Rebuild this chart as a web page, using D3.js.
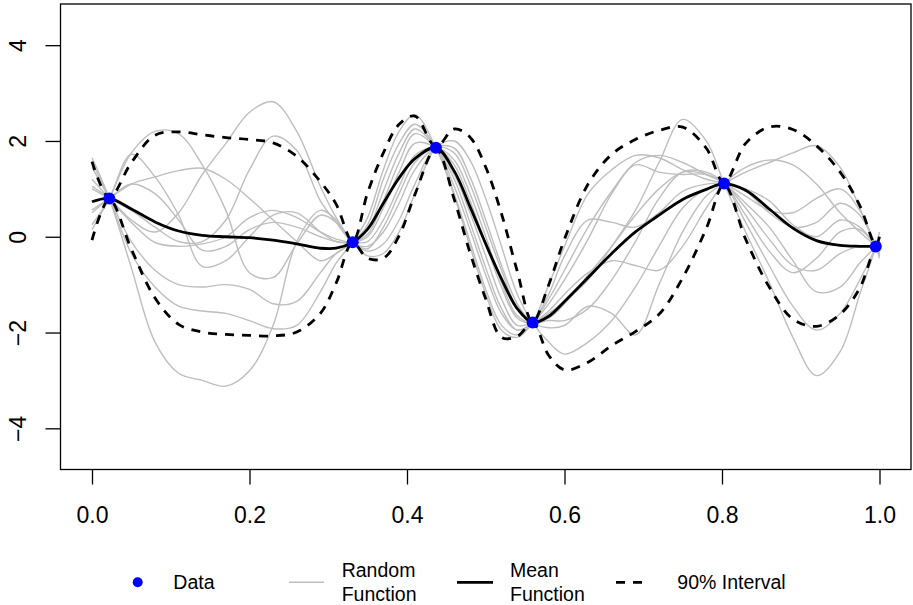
<!DOCTYPE html>
<html>
<head>
<meta charset="utf-8">
<script src="https://cdn.jsdelivr.net/npm/d3@7"></script>
<style>
body { margin: 0; background: #fff; }
svg text { font-family: Arial, "Liberation Sans", sans-serif; fill: #000; }
</style>
</head>
<body>
<svg id="chart" width="913" height="605"></svg>
<script>
// values at these x positions
const x_grid = [0, 0.022, 0.05, 0.08, 0.11, 0.14, 0.17, 0.20, 0.23, 0.26, 0.29, 0.31, 0.331,
	0.35, 0.37, 0.39, 0.41, 0.4367, 0.46, 0.48, 0.50, 0.52, 0.54, 0.5595,
	0.58, 0.60, 0.63, 0.66, 0.69, 0.72, 0.75, 0.78, 0.8027,
	0.83, 0.86, 0.89, 0.92, 0.95, 0.975, 0.9953, 1.0];

const mean_vals = [0.73, 0.80, 0.58, 0.31, 0.12, 0.03, 0.0, -0.02, -0.07, -0.15, -0.24, -0.24, -0.115,
	0.16, 0.70, 1.23, 1.63, 1.86, 1.37, 0.63, -0.15, -0.88, -1.50, -1.793,
	-1.66, -1.35, -0.85, -0.35, 0.10, 0.45, 0.78, 0.99, 1.11,
	0.97, 0.58, 0.18, -0.08, -0.18, -0.20, -0.205, -0.21];
const upper_vals = [1.57, 0.82, 1.55, 2.12, 2.19, 2.13, 2.07, 2.03, 1.96, 1.68, 1.15, 0.68, -0.10,
	0.92, 1.75, 2.35, 2.52, 1.88, 2.25, 2.08, 1.45, 0.48, -0.72, -1.78,
	-1.0, -0.05, 1.10, 1.72, 2.03, 2.22, 2.29, 1.85, 1.13,
	1.95, 2.29, 2.24, 1.90, 1.35, 0.65, -0.18, 0.0];
const lower_vals = [-0.07, 0.78, -0.26, -1.28, -1.83, -1.99, -2.04, -2.06, -2.07, -1.99, -1.60, -0.97, -0.13,
	-0.45, -0.45, 0.02, 0.88, 1.84, 0.78, -0.33, -1.30, -2.10, -2.08, -1.80,
	-2.48, -2.78, -2.62, -2.27, -1.98, -1.62, -0.86, 0.17, 1.09,
	-0.05, -1.05, -1.72, -1.87, -1.62, -1.07, -0.23, -0.40];

// the ten random functions
const draw_1 = [1.65, 0.80, -0.65, -2.2, -2.85, -3.0, -3.12, -2.8, -1.85, -0.1, 0.55, 0.35, -0.115,
	-0.3, -0.15, 0.35, 1.1, 1.86, 1.85, 1.25, 0.35, -0.6, -1.4, -1.793,
	-1.9, -1.85, -1.45, -1.6, -2.05, -1.0, 0.1, 0.85, 1.11,
	1.35, 1.55, 1.75, 1.9, 1.45, 0.6, -0.205, -0.40];
const draw_2 = [1.05, 0.80, 0.35, 0.1, 0.5, 1.3, 1.95, 2.6, 2.82, 2.2, 1.05, 0.4, -0.115,
	-0.4, -0.35, 0.1, 0.9, 1.86, 2.0, 1.6, 0.8, -0.2, -1.2, -1.793,
	-2.2, -2.45, -2.2, -1.75, -1.05, -0.2, 0.6, 1.0, 1.11,
	1.0, 0.75, 0.25, 0.0, 0.35, 0.2, -0.205, -0.35];
const draw_3 = [0.15, 0.80, 1.75, 2.2, 2.15, 1.5, 0.55, -0.75, -0.85, -0.15, 0.45, 0.3, -0.115,
	-0.25, 0.2, 0.9, 1.55, 1.86, 1.6, 0.9, 0.0, -0.95, -1.65, -1.793,
	-1.7, -1.4, -0.8, -0.2, 0.45, 1.0, 1.35, 1.3, 1.11,
	0.6, -0.05, -0.6, -0.7, -0.35, -0.2, -0.205, -0.21];
const draw_4 = [1.0, 0.80, 0.55, 0.2, -0.1, -0.1, 0.35, 1.4, 2.1, 1.8, 0.75, 0.3, -0.115,
	-0.2, 0.1, 0.7, 1.4, 1.86, 1.75, 1.1, 0.2, -0.7, -1.5, -1.793,
	-1.75, -1.75, -1.5, -0.9, -0.1, 0.8, 1.35, 1.35, 1.11,
	0.3, -0.6, -1.45, -1.95, -1.6, -0.9, -0.205, 0.0];
const draw_5 = [1.2, 0.80, 0.3, -0.12, -0.2, -0.15, 0.0, 0.4, 0.55, 0.4, 0.1, -0.05, -0.115,
	-0.1, 0.35, 1.05, 1.7, 1.86, 1.5, 0.75, -0.15, -1.05, -1.7, -1.793,
	-1.6, -1.35, -0.9, -0.2, 0.55, 1.55, 2.45, 2.0, 1.11,
	0.1, -0.95, -2.1, -2.9, -2.4, -1.2, -0.205, 0.1];
const draw_6 = [0.25, 0.80, 1.72, 1.25, 0.45, -0.62, -0.5, 0.0, 0.45, 0.5, 0.1, -0.1, -0.115,
	0.0, 0.6, 1.35, 1.95, 1.86, 1.3, 0.5, -0.4, -1.3, -1.85, -1.793,
	-1.55, -1.2, -0.75, -0.5, -0.6, -0.7, -0.2, 0.6, 1.11,
	1.45, 1.6, 1.5, 1.1, 0.5, 0.1, -0.205, -0.3];
const draw_7 = [0.5, 0.80, 1.1, 0.9, 0.35, -0.28, -0.2, 0.15, 0.3, 0.2, 0.0, -0.1, -0.115,
	0.05, 0.75, 1.55, 2.15, 1.86, 1.2, 0.3, -0.65, -1.5, -1.95, -1.793,
	-1.3, -0.7, 0.2, 0.95, 1.55, 1.7, 1.55, 1.3, 1.11,
	0.45, -0.3, -0.75, -0.45, 0.1, 0.15, -0.205, -0.35];
const draw_8 = [0.56, 0.80, 1.1, 1.25, 1.38, 1.43, 1.2, 0.8, 0.35, -0.1, -0.5, -0.35, -0.115,
	0.15, 0.95, 1.75, 2.25, 1.86, 1.05, 0.15, -0.8, -1.6, -1.95, -1.793,
	-1.4, -0.9, -0.05, 0.9, 1.5, 1.35, 1.3, 1.3, 1.11,
	0.7, 0.2, -0.5, -1.15, -1.05, -0.55, -0.205, -0.1];
const draw_9 = [1.45, 0.80, -0.1, -0.7, -1.0, -1.05, -1.0, -1.1, -1.4, -1.35, -0.75, -0.35, -0.115,
	0.25, 1.2, 1.95, 2.35, 1.86, 0.9, -0.1, -1.1, -1.85, -2.05, -1.793,
	-1.2, -0.4, 0.35, 0.3, 0.2, 0.5, 0.95, 1.1, 1.11,
	0.95, 0.5, 0.2, 0.3, 0.7, 0.45, -0.205, -0.45];
const draw_10 = [1.55, 0.80, -0.35, -1.05, -1.45, -1.55, -1.6, -1.75, -1.92, -1.85, -1.15, -0.55, -0.115,
	0.4, 1.4, 2.2, 2.55, 1.86, 0.85, -0.2, -1.2, -1.95, -2.1, -1.793,
	-1.0, -0.2, 0.9, 1.4, 1.7, 1.65, 1.4, 1.2, 1.11,
	0.85, 0.55, 0.5, 0.8, 1.0, 0.55, -0.205, -0.4];
const draws = [draw_1, draw_2, draw_3, draw_4, draw_5, draw_6, draw_7, draw_8, draw_9, draw_10];

const data_x = [0.022, 0.331, 0.4367, 0.5595, 0.8027, 0.9953];
const data_y = [0.80, -0.115, 1.86, -1.793, 1.11, -0.205];

const x_ticks = [0, 0.2, 0.4, 0.6, 0.8, 1.0];
const x_tick_labels = ["0.0", "0.2", "0.4", "0.6", "0.8", "1.0"];
const y_ticks = [-4, -2, 0, 2, 4];
const y_tick_labels = ["\u22124", "\u22122", "0", "2", "4"];
const legend_labels = [["Data"], ["Random", "Function"], ["Mean", "Function"], ["90% Interval"]];

const svg = d3.select("#chart");
const x = d3.scaleLinear().domain([-0.04, 1.04]).range([60.5, 911]);
const y = d3.scaleLinear().domain([-4.86, 4.86]).range([469.5, 4]);

const line = d3.line()
	.x((d, i) => x(x_grid[i]))
	.y(d => y(d))
	.curve(d3.curveCatmullRom.alpha(0.5));

const plot = svg.append("g");
plot.selectAll("path.draw").data(draws).enter()
	.append("path").attr("class", "draw")
	.attr("d", line)
	.style("fill", "none").style("stroke", "#bebebe").style("stroke-width", 1.4);

plot.append("path").attr("d", line(mean_vals))
	.style("fill", "none").style("stroke", "#000").style("stroke-width", 2.8);

plot.selectAll("path.bound").data([upper_vals, lower_vals]).enter()
	.append("path").attr("class", "bound")
	.attr("d", line)
	.style("fill", "none").style("stroke", "#000").style("stroke-width", 2.8)
	.style("stroke-dasharray", "9 8");

plot.selectAll("circle").data(data_x).enter()
	.append("circle")
	.attr("cx", d => x(d))
	.attr("cy", (d, i) => y(data_y[i]))
	.attr("r", 6)
	.style("fill", "#0000ff");

// box and axes
svg.append("rect")
	.attr("x", x.range()[0]).attr("y", y.range()[1])
	.attr("width", x.range()[1] - x.range()[0]).attr("height", y.range()[0] - y.range()[1])
	.style("fill", "none").style("stroke", "#000").style("stroke-width", 1.3);

const x_axis = svg.append("g").attr("transform", `translate(0,${y.range()[0]})`)
	.call(d3.axisBottom(x).tickValues(x_ticks).tickSize(15).tickSizeOuter(0)
		.tickFormat((d, i) => x_tick_labels[i]));
x_axis.select(".domain").remove();
x_axis.selectAll("line").style("stroke", "#000").style("stroke-width", 1.3);
x_axis.selectAll("text").attr("y", 0).attr("dy", 0)
	.attr("transform", "translate(0,53)")
	.style("font-size", "23px").style("font-family", "Arial, 'Liberation Sans', sans-serif").style("fill", "#000");

const y_axis = svg.append("g").attr("transform", `translate(${x.range()[0]},0)`)
	.call(d3.axisLeft(y).tickValues(y_ticks).tickSize(15).tickSizeOuter(0)
		.tickFormat((d, i) => y_tick_labels[i]));
y_axis.select(".domain").remove();
y_axis.selectAll("line").style("stroke", "#000").style("stroke-width", 1.3);
y_axis.selectAll("text").attr("x", 0).attr("dy", 0)
	.attr("transform", "translate(-35,0) rotate(-90)")
	.style("text-anchor", "middle")
	.style("font-size", "23px").style("font-family", "Arial, 'Liberation Sans', sans-serif").style("fill", "#000");

// legend
const legend = svg.append("g");
const leg_y = 582.3;
legend.append("circle").attr("cx", 137.7).attr("cy", leg_y).attr("r", 5).style("fill", "#0000ff");
legend.append("line").attr("x1", 289).attr("x2", 324).attr("y1", leg_y).attr("y2", leg_y)
	.style("stroke", "#bebebe").style("stroke-width", 1.6);
legend.append("line").attr("x1", 457).attr("x2", 493).attr("y1", leg_y).attr("y2", leg_y)
	.style("stroke", "#000").style("stroke-width", 2.8);
legend.append("line").attr("x1", 616).attr("x2", 642).attr("y1", leg_y).attr("y2", leg_y)
	.style("stroke", "#000").style("stroke-width", 2.8).style("stroke-dasharray", "9 8");

const leg_text_x = [173.3, 341.7, 510, 677.3];
legend_labels.forEach((lines, i) => {
	const t = legend.append("text").attr("x", leg_text_x[i]).style("font-size", "19.5px");
	if (lines.length === 1) {
		t.attr("y", 589).text(lines[0]);
	} else {
		lines.forEach((s, j) => {
			t.append("tspan").attr("x", leg_text_x[i]).attr("y", 577.3 + j * 23.4).text(s);
		});
	}
});
</script>
</body>
</html>
